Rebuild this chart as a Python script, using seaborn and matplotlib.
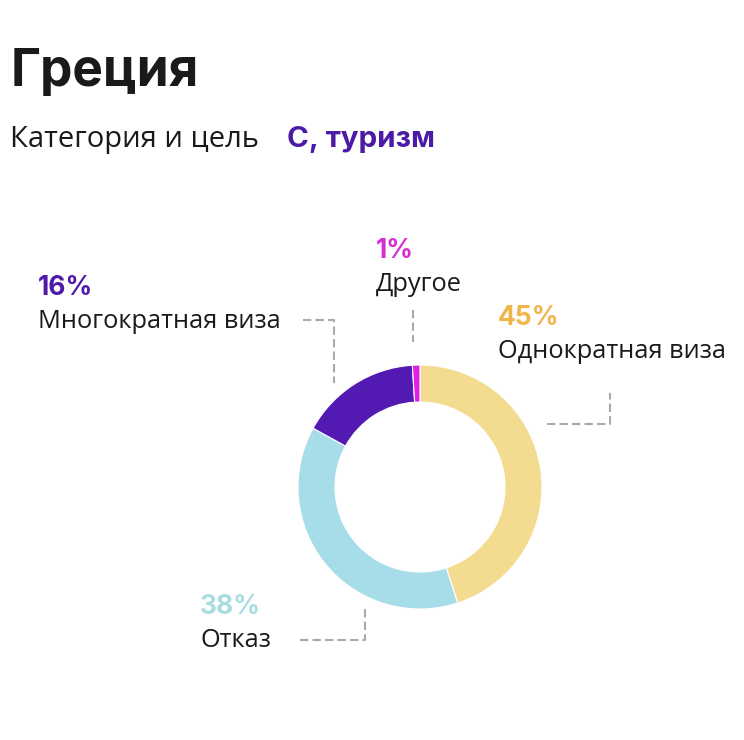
import matplotlib
matplotlib.use("Agg")
import matplotlib.pyplot as plt
import seaborn as sns

# ---- data ----
categories = ["Однократная виза", "Отказ", "Многократная виза", "Другое"]
values = [45, 38, 16, 1]
slice_colors = ["#F3DC8F", "#A7DDE8", "#5319B3", "#E021DF"]
label_colors = ["#F0B548", "#A8DCE3", "#4F1AAA", "#D52ED4"]
title = "Греция"
subtitle = "Категория и цель"
subtitle_value = "С, туризм"

sns.set_theme(style="white")
plt.rcParams["font.family"] = ["Open Sans", "DejaVu Sans"]
BOLD = ["Inter", "DejaVu Sans"]

W, H = 744, 740
fig = plt.figure(figsize=(W / 100, H / 100), dpi=100)
ax = fig.add_axes([0, 0, 1, 1])

def Y(py):
    return H - py

palette = sns.color_palette(slice_colors)
ax.pie(values, colors=palette, startangle=90, counterclock=False,
       radius=122, center=(420, Y(487)),
       wedgeprops=dict(width=37, edgecolor="white", linewidth=0.8))
ax.set_xlim(0, W)
ax.set_ylim(0, H)
ax.set_aspect("auto")
ax.axis("off")

# title & subtitle
ax.text(11, Y(86), title, fontsize=37, fontweight="bold", family=BOLD, color="#1a1a1a", va="baseline", ha="left")
ax.text(10, Y(147), subtitle, fontsize=21, color="#1a1a1a", va="baseline", ha="left")
ax.text(287, Y(147), subtitle_value, fontsize=21.3, fontweight="bold", family=BOLD, color="#4B1BA6", va="baseline", ha="left")

# labels: (x, baseline of pct) in pixels
label_pos = [(498, 325), (200, 614), (38, 295), (376, 258)]
for cat, v, col, (lx, ly) in zip(categories, values, label_colors, label_pos):
    ax.text(lx, Y(ly), f"{v}%", fontsize=19, fontweight="bold", family=BOLD, color=col, va="baseline", ha="left")
    ax.text(lx, Y(ly + 33), cat, fontsize=18.3, color="#1a1a1a", va="baseline", ha="left")

# leader lines
dash = dict(color="#AAAAAA", lw=1.5, linestyle=(0, (4, 2)))
ax.plot([547, 610, 610], [Y(424), Y(424), Y(393)], **dash)
ax.plot([413, 413], [Y(310), Y(342)], **dash)
ax.plot([303, 334, 334], [Y(320), Y(320), Y(383)], **dash)
ax.plot([300, 365, 365], [Y(640), Y(640), Y(609)], **dash)

fig.savefig("out.png", dpi=100, facecolor="white")
